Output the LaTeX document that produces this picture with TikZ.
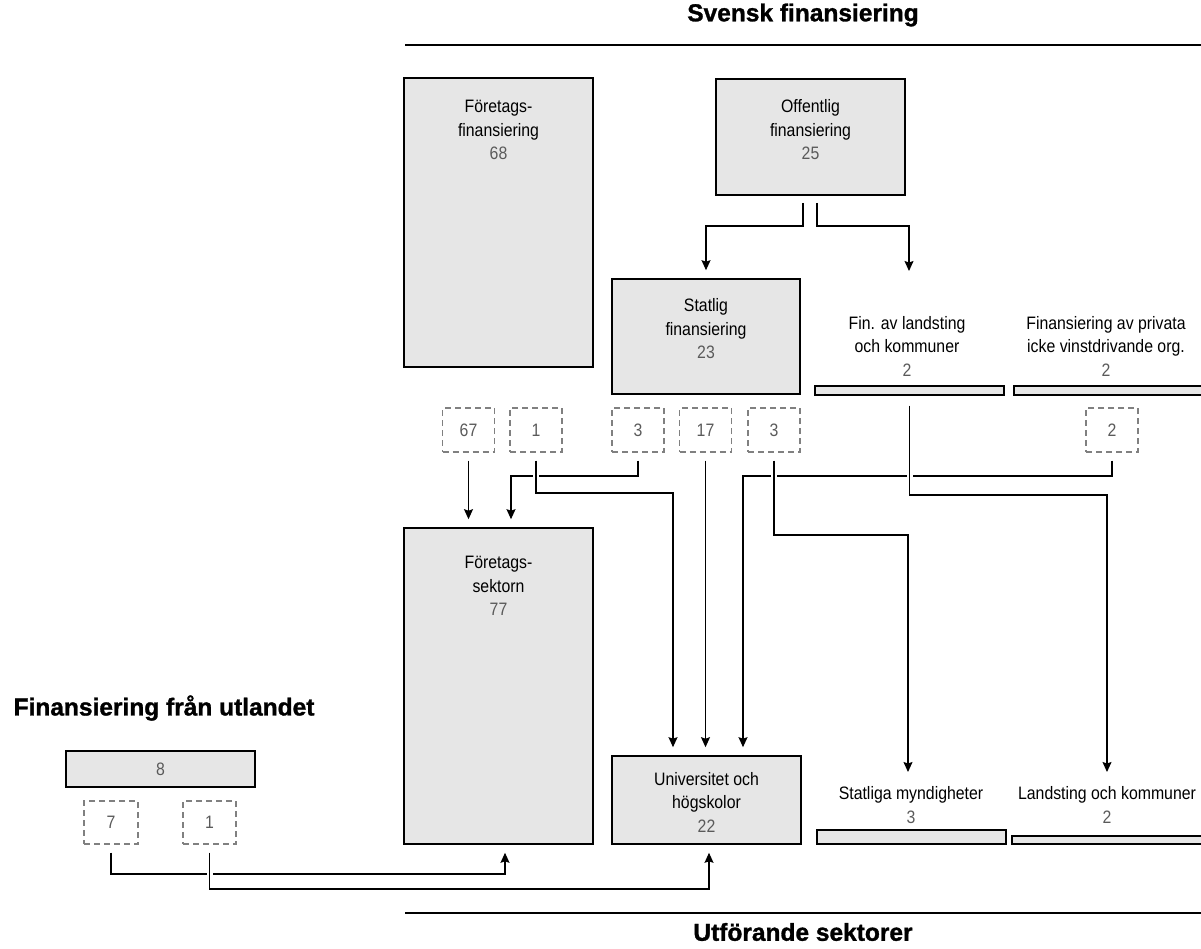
\documentclass[tikz,border=0pt]{standalone}
\usepackage{fontspec}
\setmainfont{Liberation Sans}[FakeStretch=0.88]
\newfontfamily\titlefont{Liberation Sans}[BoldFeatures={FakeBold=1.2}]
\usetikzlibrary{arrows.meta,calc}
\definecolor{boxgray}{HTML}{E6E6E6}
\definecolor{numgray}{HTML}{5A5A5A}
\definecolor{dashgray}{HTML}{808080}
\tikzset{
  box/.style={draw=black, line width=1.6pt, fill=boxgray, inner sep=0pt},
  bar/.style={draw=black, line width=1.4pt, fill=boxgray, inner sep=0pt},
  dbox/.style={draw=dashgray, line width=1.1pt, dash pattern=on 6pt off 4pt, minimum width=52pt, minimum height=44pt, inner sep=0pt, font=\fontsize{18}{22}\selectfont, text=numgray},
  txt/.style={align=center, inner sep=0pt, font=\fontsize{18}{23.5}\selectfont},
  ttl/.style={inner sep=0pt, font=\titlefont\bfseries\fontsize{24.5}{28}\selectfont},
  conn/.style={draw=black, line width=1.2pt, -{Stealth[length=10pt,width=9pt,inset=1.5pt]}},
  jump/.style={preaction={draw=white, line width=6pt, -}},
  rule/.style={draw=black, line width=2pt},
}
\newcommand{\num}[1]{\textcolor{numgray}{#1}}
\begin{document}
\begin{tikzpicture}[x=1pt, y=-1pt]
\useasboundingbox (0,0) rectangle (1201,949);

% titles and rules
\node[ttl] (tsv) at (803,15) {Svensk finansiering};
\node[ttl] (tut) at (803,932) {Utförande sektorer};
\node[ttl] (tfr) at (164,708) {Finansiering från utlandet};
\coordinate (r1a) at (405,45); \coordinate (r1b) at (1201,45);
\coordinate (r2a) at (405,913); \coordinate (r2b) at (1201,913);
\draw[rule] (r1a) -- (r1b);
\draw[rule] (r2a) -- (r2b);

% funding boxes
\node[box, minimum width=189pt, minimum height=289pt] (fb) at (498.5,222.5) {};
\node[txt] (fbt) at (498.5,130) {Företags-\\finansiering\\\num{68}};
\node[box, minimum width=189pt, minimum height=116pt] (ob) at (810.5,137) {};
\node[txt] (obt) at (810.5,130) {Offentlig\\finansiering\\\num{25}};
\node[box, minimum width=188pt, minimum height=115pt] (sb) at (706,336.5) {};
\node[txt] (sbt) at (706,329) {Statlig\\finansiering\\\num{23}};
\node[bar, minimum width=189pt, minimum height=9pt] (lb) at (909.5,390.5) {};
\node[txt] (lbt) at (907,346) {Fin. av landsting\\och kommuner\\\num{2}};
\node[bar, minimum width=189pt, minimum height=9pt] (pb) at (1108.5,390.5) {};
\node[txt] (pbt) at (1106,346) {Finansiering av privata\\icke vinstdrivande org.\\\num{2}};

% dashed boxes
\node[dbox] (d67) at (468.5,430) {67};
\node[dbox] (d1) at (536,430) {1};
\node[dbox] (d3a) at (638,430) {3};
\node[dbox] (d17) at (705.5,430) {17};
\node[dbox] (d3b) at (774,430) {3};
\node[dbox] (d2) at (1112,430) {2};

% performing sectors
\node[box, minimum width=189pt, minimum height=316pt] (fsb) at (498.5,686) {};
\node[txt] (fsbt) at (498.5,586) {Företags-\\sektorn\\\num{77}};
\node[box, minimum width=189pt, minimum height=88pt] (ub) at (706.5,800) {};
\node[txt] (ubt) at (706.5,802) {Universitet och\\högskolor\\\num{22}};
\node[bar, minimum width=189pt, minimum height=14pt] (smb) at (911.5,837) {};
\node[txt] (smbt) at (911,805) {Statliga myndigheter\\\num{3}};
\node[bar, minimum width=191pt, minimum height=8pt] (lkb) at (1107.5,840) {};
\node[txt] (lkbt) at (1107,805) {Landsting och kommuner\\\num{2}};

% foreign
\node[box, minimum width=189pt, minimum height=36pt] (utl) at (160.5,769) {};
\node[txt] (utlt) at (160.5,769) {\num{8}};
\node[dbox, minimum height=43pt, minimum width=54pt] (d7) at (111,822.5) {7};
\node[dbox, minimum height=43pt, minimum width=53pt] (d1f) at (209.5,822.5) {1};

% helper levels and points
\coordinate (hO) at (0,226);
\coordinate (hA) at (0,476);
\coordinate (hB) at (0,493);
\coordinate (hD) at (0,495);
\coordinate (hC) at (0,535);
\coordinate (hE) at (0,874);
\coordinate (hF) at (0,889);
\coordinate (xOl) at (803,0);
\coordinate (xOr) at (817,0);
\coordinate (xF2) at (511,0);
\coordinate (xU1) at (673,0);
\coordinate (xU3) at (743,0);
\coordinate (xFb) at (505,0);
\coordinate (xUb) at (709,0);
\coordinate (lbtip) at (909,271);
\coordinate (smtip) at (908,772);
\coordinate (lktip) at (1107,772);

% connectors from Offentlig
\draw[conn, shorten <=7pt, shorten >=8pt] (xOl |- ob.south) -- (xOl |- hO) -| (sb.north);
\draw[conn, shorten <=7pt] (xOr |- ob.south) -- (xOr |- hO) -| (lbtip);

% flows to performing sectors (lower layers first)
\draw[conn, shorten <=8pt, shorten >=8pt] (d67.south) -- (d67.south |- fsb.north);
\draw[conn, shorten <=8pt, shorten >=8pt] (d3a.south) -- (d3a.south |- hA) -| (xF2 |- fsb.north);
\draw[conn, shorten <=8pt, shorten >=8pt] (d2.south) -- (d2.south |- hA) -| (xU3 |- ub.north);
\draw[conn, jump, shorten <=8pt, shorten >=8pt] (d1.south) -- (d1.south |- hB) -| (xU1 |- ub.north);
\draw[conn, shorten <=8pt, shorten >=8pt] (d17.south) -- (d17.south |- ub.north);
\draw[conn, jump, shorten <=8pt] (d3b.south) -- (d3b.south |- hC) -| (smtip);
\draw[conn, jump, shorten <=10pt] (lb.south) -- (lb.south |- hD) -| (lktip);

% foreign flows
\draw[conn, shorten <=8pt, shorten >=8pt] (d7.south) -- (d7.south |- hE) -| (xFb |- fsb.south);
\draw[conn, jump, shorten <=8pt, shorten >=8pt] (d1f.south) -- (d1f.south |- hF) -| (xUb |- ub.south);
\end{tikzpicture}
\end{document}
